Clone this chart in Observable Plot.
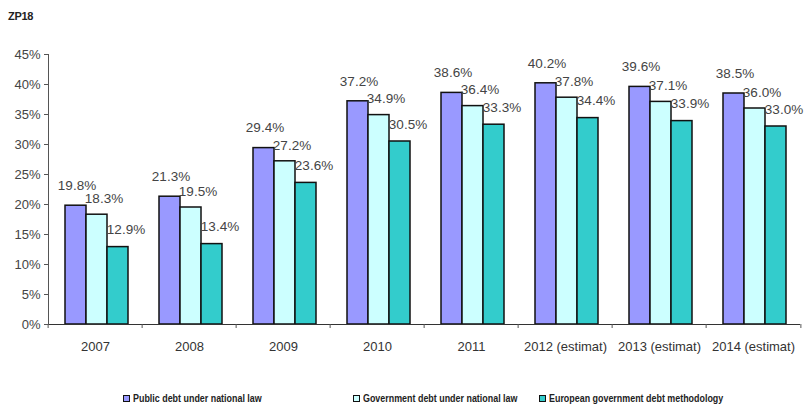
<!DOCTYPE html>
<html>
<head>
<meta charset="utf-8">
<script src="https://cdn.jsdelivr.net/npm/d3@7"></script>
<script src="https://cdn.jsdelivr.net/npm/@observablehq/plot@0.6"></script>
<style>
  body { margin: 0; background: #fff; width: 808px; height: 406px; overflow: hidden; }
  #title { height: 30px; position: relative; }
  #title span { position: absolute; left: 8px; top: 10px; font: bold 11px "Liberation Sans", sans-serif; color: #222; letter-spacing: -0.3px; }
  #legend { height: 26px; position: relative; font: bold 11px "Liberation Sans", sans-serif; color: #222; }
  .item { position: absolute; top: 12px; display: flex; align-items: center; white-space: nowrap; }
  .sw { width: 5px; height: 5px; border: 1.5px solid #111; margin-right: 3px; flex: none; }
  .lt { display: inline-block; transform: scaleX(0.81); transform-origin: 0 50%; }
</style>
</head>
<body>
<div id="title"><span>ZP18</span></div>
<div id="chart"></div>
<div id="legend"></div>
<script>
const years = ["2007", "2008", "2009", "2010", "2011", "2012 (estimat)", "2013 (estimat)", "2014 (estimat)"];
const seriesNames = ["Public debt under national law", "Government debt under national law", "European government debt methodology"];
const publicDebt = [19.8, 21.3, 29.4, 37.2, 38.6, 40.2, 39.6, 38.5];
const governmentDebt = [18.3, 19.5, 27.2, 34.9, 36.4, 37.8, 37.1, 36.0];
const europeanDebt = [12.9, 13.4, 23.6, 30.5, 33.3, 34.4, 33.9, 33.0];
const yTicks = [0, 5, 10, 15, 20, 25, 30, 35, 40, 45];
const colors = ["#9999ff", "#ccffff", "#33cccc"];

const seriesValues = [publicDebt, governmentDebt, europeanDebt];
const table = [];
seriesNames.forEach((s, i) => years.forEach((y, j) => table.push({year: y, series: s, value: seriesValues[i][j]})));

const W = 808, ML = 45, MR = 5;
const bw = (W - ML - MR) / years.length;
const labelDx = [1, 7, 8];
const labelDy = [-20, -16, -17];

const chart = Plot.plot({
  width: W, height: 350,
  marginLeft: ML, marginRight: MR, marginTop: 24, marginBottom: 56,
  style: {fontFamily: "'Liberation Sans', Arial, sans-serif", fontSize: "13px", color: "#444", background: "#fff"},
  fx: {domain: years, paddingInner: 0, paddingOuter: 0, label: null},
  x: {domain: seriesNames, paddingInner: 0, paddingOuter: 0.72, align: 0.55, axis: null},
  y: {domain: [0, 45], axis: null},
  color: {domain: seriesNames, range: colors},
  marks: [
    Plot.barY(table, {fx: "year", x: "series", y: "value", fill: "series", stroke: "#111", strokeWidth: 1.5}),
    ...seriesNames.map((s, i) => Plot.text(table.filter(d => d.series === s), {
      fx: "year", x: "series", y: "value", text: d => d.value.toFixed(1) + "%",
      dx: labelDx[i], dy: labelDy[i], fontSize: 13.5, fill: "#444"
    })),
    Plot.ruleY([0], {stroke: "#333", strokeWidth: 1.2}),
    Plot.frame({anchor: "left", facetAnchor: "left", stroke: "#555"}),
    Plot.axisY({ticks: yTicks, tickFormat: d => d + "%", tickSize: 4, tickPadding: 4, fontSize: 13, fill: "#444", stroke: "#555", label: null}),
    Plot.axisFx({anchor: "bottom", tickSize: 0, tickPadding: 17, fontSize: 13, fill: "#333", label: null}),
    Plot.axisFx({anchor: "bottom", tickSize: 4, tickFormat: () => "", dx: -bw / 2, stroke: "#555", label: null}),
    Plot.axisFx({anchor: "bottom", ticks: [years[years.length - 1]], tickSize: 4, tickFormat: () => "", dx: bw / 2, stroke: "#555", label: null})
  ]
});
document.getElementById("chart").appendChild(chart);

const legendLefts = [123, 353, 539];
const legend = document.getElementById("legend");
seriesNames.forEach((s, i) => {
  const it = document.createElement("div");
  it.className = "item";
  it.style.left = legendLefts[i] + "px";
  it.innerHTML = `<div class="sw" style="background:${colors[i]}"></div><span class="lt">${s}</span>`;
  legend.appendChild(it);
});
</script>
</body>
</html>
